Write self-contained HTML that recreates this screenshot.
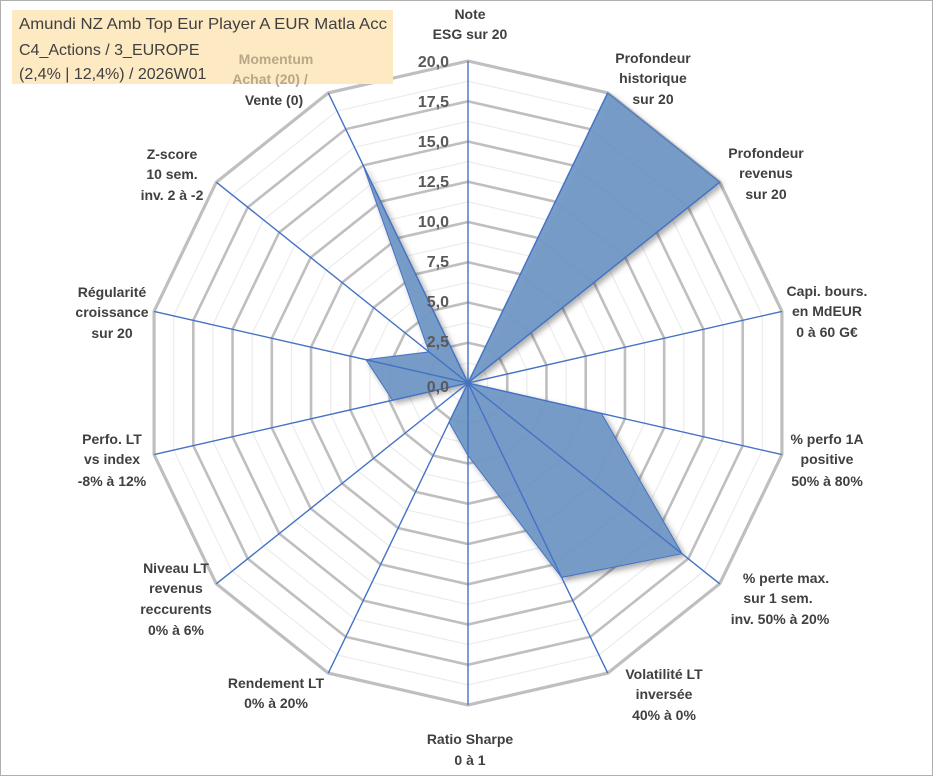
<!DOCTYPE html>
<html><head><meta charset="utf-8"><style>
body{margin:0;background:#fff;}
svg{display:block;font-family:"Liberation Sans",sans-serif;}
</style></head><body>
<svg width="933" height="776" viewBox="0 0 933 776" xmlns="http://www.w3.org/2000/svg">
<defs>
<filter id="sh" x="-10%" y="-10%" width="130%" height="130%"><feDropShadow dx="3" dy="3" stdDeviation="3" flood-color="#000" flood-opacity="0.35"/></filter>
<polygon id="ringmin" points="0,-1 0.4339,-0.9010 0.7818,-0.6235 0.9749,-0.2225 0.9749,0.2225 0.7818,0.6235 0.4339,0.9010 0,1 -0.4339,0.9010 -0.7818,0.6235 -0.9749,0.2225 -0.9749,-0.2225 -0.7818,-0.6235 -0.4339,-0.9010" fill="none" stroke="#ececec" stroke-width="1.2" vector-effect="non-scaling-stroke"/>
<polygon id="ringmaj" points="0,-1 0.4339,-0.9010 0.7818,-0.6235 0.9749,-0.2225 0.9749,0.2225 0.7818,0.6235 0.4339,0.9010 0,1 -0.4339,0.9010 -0.7818,0.6235 -0.9749,0.2225 -0.9749,-0.2225 -0.7818,-0.6235 -0.4339,-0.9010" fill="none" stroke="#bfbfbf" stroke-width="2.6" vector-effect="non-scaling-stroke"/>
<polygon id="ringout" points="0,-1 0.4339,-0.9010 0.7818,-0.6235 0.9749,-0.2225 0.9749,0.2225 0.7818,0.6235 0.4339,0.9010 0,1 -0.4339,0.9010 -0.7818,0.6235 -0.9749,0.2225 -0.9749,-0.2225 -0.7818,-0.6235 -0.4339,-0.9010" fill="none" stroke="#bfbfbf" stroke-width="3.2" vector-effect="non-scaling-stroke"/>
</defs>
<rect x="0.5" y="0.5" width="932" height="775" fill="#fff" stroke="#b0b0b0"/>
<g transform="translate(-1,-3)">
<g>
<use href="#ringmin" transform="translate(469,386) scale(20.125)"/>
<use href="#ringmaj" transform="translate(469,386) scale(40.25)"/>
<use href="#ringmin" transform="translate(469,386) scale(60.375)"/>
<use href="#ringmaj" transform="translate(469,386) scale(80.5)"/>
<use href="#ringmin" transform="translate(469,386) scale(100.625)"/>
<use href="#ringmaj" transform="translate(469,386) scale(120.75)"/>
<use href="#ringmin" transform="translate(469,386) scale(140.875)"/>
<use href="#ringmaj" transform="translate(469,386) scale(161)"/>
<use href="#ringmin" transform="translate(469,386) scale(181.125)"/>
<use href="#ringmaj" transform="translate(469,386) scale(201.25)"/>
<use href="#ringmin" transform="translate(469,386) scale(221.375)"/>
<use href="#ringmaj" transform="translate(469,386) scale(241.5)"/>
<use href="#ringmin" transform="translate(469,386) scale(261.625)"/>
<use href="#ringmaj" transform="translate(469,386) scale(281.75)"/>
<use href="#ringmin" transform="translate(469,386) scale(301.875)"/>
<use href="#ringout" transform="translate(469,386) scale(322)"/>
</g>
<polygon points="469,386 608.7,95.9 720.7,185.2 469,386 602.4,416.5 683,556.7 562.6,580.4 469,458.5 450.1,425.2 469,386 393.6,403.2 367,362.7 430,354.9 364.2,168.4" fill="#7399c6" fill-opacity="0.95" stroke="#4472c4" stroke-width="1" filter="url(#sh)"/>
<g stroke="#4472c4" stroke-width="1.4">
<line x1="469" y1="386" x2="469" y2="64"/>
<line x1="469" y1="386" x2="608.7" y2="95.9"/>
<line x1="469" y1="386" x2="720.7" y2="185.2"/>
<line x1="469" y1="386" x2="782.9" y2="314.4"/>
<line x1="469" y1="386" x2="782.9" y2="457.6"/>
<line x1="469" y1="386" x2="720.7" y2="586.8"/>
<line x1="469" y1="386" x2="608.7" y2="676.1"/>
<line x1="469" y1="386" x2="469" y2="708"/>
<line x1="469" y1="386" x2="329.3" y2="676.1"/>
<line x1="469" y1="386" x2="217.3" y2="586.8"/>
<line x1="469" y1="386" x2="155.1" y2="457.6"/>
<line x1="469" y1="386" x2="155.1" y2="314.4"/>
<line x1="469" y1="386" x2="217.3" y2="185.2"/>
<line x1="469" y1="386" x2="329.3" y2="95.9"/>
</g>
</g>
<g font-size="16" font-weight="bold" fill="#595959" text-anchor="end">
<text x="449" y="67">20,0</text><text x="449" y="147">15,0</text><text x="449" y="107">17,5</text>
<text x="449" y="187">12,5</text><text x="449" y="227">10,0</text><text x="449" y="267">7,5</text>
<text x="449" y="307">5,0</text><text x="449" y="347">2,5</text><text x="449" y="392">0,0</text>
</g>
<rect x="12" y="10" width="381" height="74" fill="#fde9c2"/>
<g font-size="16" fill="#404040">
<text x="19" y="29" textLength="368" lengthAdjust="spacingAndGlyphs">Amundi NZ Amb Top Eur Player A EUR Matla Acc</text>
<text x="19" y="55">C4_Actions / 3_EUROPE</text>
<text x="19" y="79">(2,4% | 12,4%) / 2026W01</text>
</g>
<g font-size="14" font-weight="bold" fill="#404040" text-anchor="middle">
<text x="276" y="64" fill="#b8a888">Momentum</text>
<text x="270" y="84" fill="#b8a888">Achat (20) /</text>
<text x="274" y="105">Vente (0)</text>
<text x="470" y="19">Note</text><text x="470" y="39">ESG sur 20</text>
<text x="653" y="63">Profondeur</text><text x="653" y="83">historique</text><text x="653" y="104">sur 20</text>
<text x="766" y="158">Profondeur</text><text x="766" y="178">revenus</text><text x="766" y="199">sur 20</text>
<text x="827" y="296">Capi. bours.</text><text x="827" y="316">en MdEUR</text><text x="827" y="337">0 à 60 G€</text>
<text x="827" y="444">% perfo 1A</text><text x="827" y="464">positive</text><text x="827" y="486">50% à 80%</text>
<text x="786" y="583">% perte max.</text><text x="778" y="603">sur 1 sem.</text><text x="780" y="624">inv. 50% à 20%</text>
<text x="664" y="679">Volatilité LT</text><text x="664" y="699">inversée</text><text x="664" y="720">40% à 0%</text>
<text x="470" y="744">Ratio Sharpe</text><text x="470" y="765">0 à 1</text>
<text x="276" y="688">Rendement LT</text><text x="276" y="708">0% à 20%</text>
<text x="176" y="573">Niveau LT</text><text x="176" y="593">revenus</text><text x="176" y="614">reccurents</text><text x="176" y="635">0% à 6%</text>
<text x="112" y="444">Perfo. LT</text><text x="112" y="464">vs index</text><text x="112" y="486">-8% à 12%</text>
<text x="112" y="297">Régularité</text><text x="112" y="317">croissance</text><text x="112" y="338">sur 20</text>
<text x="172" y="159">Z-score</text><text x="172" y="179">10 sem.</text><text x="172" y="200">inv. 2 à -2</text>
</g>
</svg>
</body></html>
